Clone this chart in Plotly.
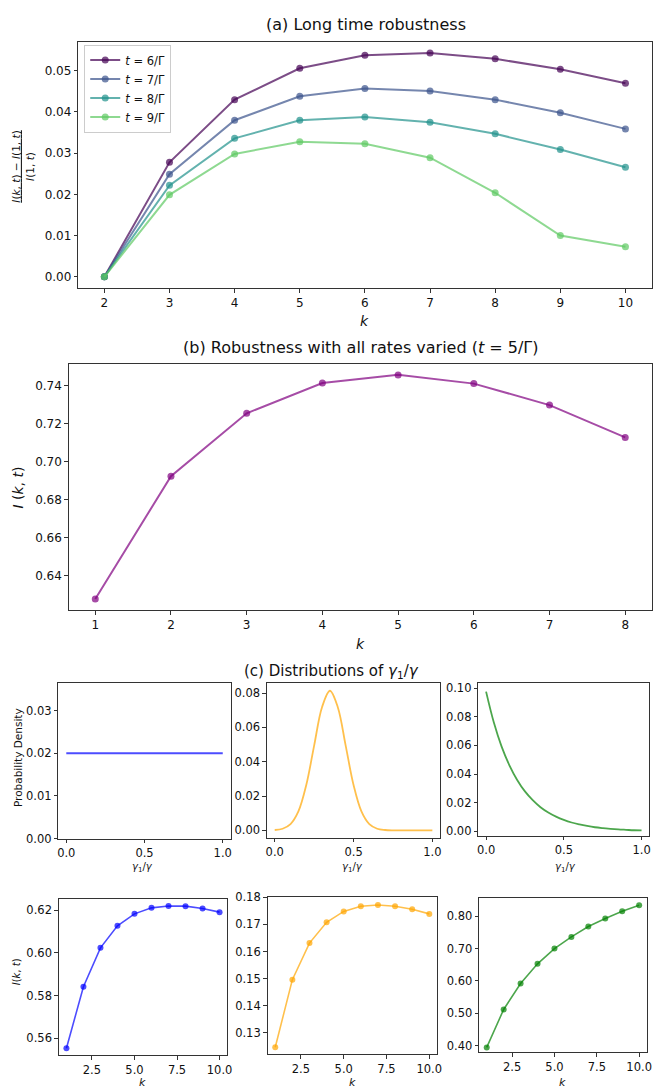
import plotly.graph_objects as go

W, H = 658, 1088

# ---------------- data ----------------
k_a = [2, 3, 4, 5, 6, 7, 8, 9, 10]
a_t6 = [0.0, 0.0278, 0.0430, 0.0506, 0.0538, 0.0543, 0.0529, 0.0504, 0.0470]
a_t7 = [0.0, 0.0249, 0.0380, 0.0438, 0.0457, 0.0451, 0.0430, 0.0398, 0.0359]
a_t8 = [0.0, 0.0222, 0.0336, 0.0380, 0.0388, 0.0375, 0.0347, 0.0309, 0.0266]
a_t9 = [0.0, 0.0199, 0.0298, 0.0328, 0.0323, 0.0289, 0.0204, 0.0100, 0.0073]
a_names = ["<i>t</i> = 6/Γ", "<i>t</i> = 7/Γ", "<i>t</i> = 8/Γ", "<i>t</i> = 9/Γ"]

k_b = [1, 2, 3, 4, 5, 6, 7, 8]
b_vals = [0.6277, 0.6923, 0.7254, 0.7413, 0.7456, 0.7410, 0.7297, 0.7127]

gamma_ratio = [0.0, 0.05, 0.10, 0.15, 0.20, 0.25, 0.30, 0.35, 0.40, 0.45, 0.50,
               0.55, 0.60, 0.65, 0.70, 0.75, 0.80, 0.85, 0.90, 0.95, 1.0]
dens_uniform = [0.02] * 21
dens_gauss = [0.0002, 0.0009, 0.0036, 0.0110, 0.0264, 0.0494, 0.0718, 0.0814, 0.0718,
              0.0494, 0.0264, 0.0110, 0.0036, 0.0009, 0.0002, 0.0, 0.0, 0.0, 0.0, 0.0, 0.0]
dens_exp = [0.0975, 0.0759, 0.0591, 0.0461, 0.0359, 0.0279, 0.0218, 0.0169, 0.0132,
            0.0103, 0.0080, 0.0062, 0.0049, 0.0038, 0.0029, 0.0023, 0.0018, 0.0014,
            0.0011, 0.0008, 0.0007]

k_d = [1, 2, 3, 4, 5, 6, 7, 8, 9, 10]
d_uniform = [0.5554, 0.5842, 0.6024, 0.6127, 0.6183, 0.6211, 0.6220, 0.6219, 0.6208, 0.6191]
d_gauss = [0.1246, 0.1496, 0.1631, 0.1708, 0.1748, 0.1767, 0.1772, 0.1767, 0.1756, 0.1739]
d_exp = [0.395, 0.512, 0.592, 0.653, 0.700, 0.736, 0.768, 0.793, 0.815, 0.834]

# ---------------- styling ----------------
FONT = "DejaVu Sans"
a_colors = [(68, 1, 84), (59, 82, 139), (33, 145, 140), (94, 201, 98)]
def rgba(c, a=0.7):
    return f"rgba({c[0]},{c[1]},{c[2]},{a})"

def clamp(v):
    return max(0.0, min(1.0, v))

def px(v):
    return v / W

def py(v):
    return 1 - v / H

def xd(a, b):
    return [clamp(px(a)), clamp(px(b))]

def yd(top, bottom):
    return [clamp(py(bottom)), clamp(py(top))]

fig = go.Figure()

# (a)
for vals, name, col in zip([a_t6, a_t7, a_t8, a_t9], a_names, a_colors):
    fig.add_trace(go.Scatter(x=k_a, y=vals, mode="lines+markers", name=name,
                             line=dict(color=rgba(col), width=2),
                             marker=dict(color=rgba(col), size=7),
                             xaxis="x", yaxis="y"))
# (b)
purple = (128, 0, 128)
fig.add_trace(go.Scatter(x=k_b, y=b_vals, mode="lines+markers", showlegend=False,
                         line=dict(color=rgba(purple), width=2),
                         marker=dict(color=rgba(purple), size=7),
                         xaxis="x2", yaxis="y2"))
# (c) distributions
c_cols = [(0, 0, 255), (255, 165, 0), (0, 128, 0)]
for i, (dens, col) in enumerate(zip([dens_uniform, dens_gauss, dens_exp], c_cols)):
    fig.add_trace(go.Scatter(x=gamma_ratio, y=dens, mode="lines", showlegend=False,
                             line=dict(color=rgba(col), width=1.8, shape="spline"),
                             xaxis=f"x{3+i}", yaxis=f"y{3+i}"))
# (c) robustness
for i, (vals, col) in enumerate(zip([d_uniform, d_gauss, d_exp], c_cols)):
    fig.add_trace(go.Scatter(x=k_d, y=vals, mode="lines+markers", showlegend=False,
                             line=dict(color=rgba(col), width=1.6),
                             marker=dict(color=rgba(col), size=6),
                             xaxis=f"x{6+i}", yaxis=f"y{6+i}"))

def ax(domain, rng, anchor, fs=12, **kw):
    d = dict(domain=domain, range=rng, anchor=anchor, showgrid=False, zeroline=False,
             showline=True, mirror=True, linecolor="#333", linewidth=1,
             ticks="outside", ticklen=3.5, tickwidth=1, tickcolor="#333",
             tickfont=dict(family=FONT, size=fs, color="#111"))
    d.update(kw)
    return d

lay = dict(
    width=W, height=H, margin=dict(l=0, r=0, t=0, b=0),
    paper_bgcolor="white", plot_bgcolor="white",
    font=dict(family=FONT, color="#111"),
    legend=dict(x=px(84), y=py(38), xanchor="left", yanchor="top",
                bgcolor="rgba(255,255,255,0.8)", bordercolor="#ccc", borderwidth=1,
                font=dict(family=FONT, size=11.5), itemwidth=30, tracegroupgap=0),
)
lay["xaxis"] = ax(xd(78, 656.5), [1.6, 10.4], "y", tickmode="linear", tick0=2, dtick=1)
lay["yaxis"] = ax(yd(35, 285), [-0.0028, 0.0571], "x", tickmode="linear", tick0=0, dtick=0.01, tickformat=".2f")
lay["xaxis2"] = ax(xd(68.4, 656.7), [0.65, 8.35], "y2", tickmode="linear", tick0=1, dtick=1)
lay["yaxis2"] = ax(yd(361.7, 611), [0.6218, 0.7513], "x2", tickmode="linear", tick0=0.64, dtick=0.02, tickformat=".2f")

c_x = [(58, 231.7), (268.3, 443.3), (481.7, 654.3)]
c_y = [(685, 842.5), (685, 841.7), (685, 839.5)]
c_yr = [[0, 0.0364], [-0.0044, 0.0858], [-0.003, 0.1034]]
c_dt = [0.01, 0.02, 0.02]
for i in range(3):
    n = 3 + i
    lay[f"xaxis{n}"] = ax(xd(*c_x[i]), [-0.05, 1.05], f"y{n}", fs=11.5,
                          tickmode="linear", tick0=0, dtick=0.5, tickformat=".1f")
    lay[f"yaxis{n}"] = ax(yd(*c_y[i]), c_yr[i], f"x{n}", fs=11.5,
                          tickmode="linear", tick0=0, dtick=c_dt[i], tickformat=".2f")

d_x = [(58.3, 228.3), (269, 440), (482.5, 651.7)]
d_y = [(903.3, 1062), (901.7, 1061), (902.3, 1059)]
d_yr = [[0.5521, 0.6254], [0.1220, 0.1801], [0.3796, 0.857]]
d_t0 = [0.56, 0.13, 0.40]
d_dt = [0.02, 0.01, 0.10]
for i in range(3):
    n = 6 + i
    lay[f"xaxis{n}"] = ax(xd(*d_x[i]), [0.55, 10.45], f"y{n}", fs=11.5,
                          tickmode="linear", tick0=0, dtick=2.5, tickformat=".1f")
    lay[f"yaxis{n}"] = ax(yd(*d_y[i]), d_yr[i], f"x{n}", fs=11.5,
                          tickmode="linear", tick0=d_t0[i], dtick=d_dt[i], tickformat=".2f")

fig.update_layout(**lay)

def ann(text, x, y, size, angle=0, xanchor="center", yanchor="middle"):
    fig.add_annotation(text=text, x=px(x), y=py(y), xref="paper", yref="paper",
                       showarrow=False, textangle=angle, xanchor=xanchor, yanchor=yanchor,
                       font=dict(family=FONT, size=size, color="#111"))

ann("(a) Long time robustness", 368, 18, 16)
ann("<u><i>I</i>(<i>k</i>, <i>t</i>) − <i>I</i>(1, <i>t</i>)</u><br><i>I</i>(1, <i>t</i>)", 22, 161, 10.5, angle=-90)
ann("<i>k</i>", 367, 318, 14)
ann("(b) Robustness with all rates varied (<i>t</i> = 5/Γ)", 363, 345, 16)
ann("<i>I</i> (<i>k</i>, <i>t</i>)", 17, 487, 14, angle=-90)
ann("<i>k</i>", 363, 645, 14)
ann("(c) Distributions of <i>γ</i><sub>1</sub>/<i>γ</i>", 334, 673, 15)
ann("Probability Density", 17, 760, 10.5, angle=-90)
for cx in [143, 355, 570]:
    ann("<i>γ</i><sub>1</sub>/<i>γ</i>", cx, 863, 10, yanchor="top")
ann("<i>I</i>(<i>k</i>, <i>t</i>)", 16, 977, 10, angle=-90)
for cx in [143, 355, 567]:
    ann("<i>k</i>", cx, 1081, 11, yanchor="top")

# remove the browser's default 8px page margin so the figure fills the window exactly
fig.write_html("out.html", config={"displayModeBar": False},
               post_script="document.body.style.margin='0';document.body.style.overflow='hidden';")
